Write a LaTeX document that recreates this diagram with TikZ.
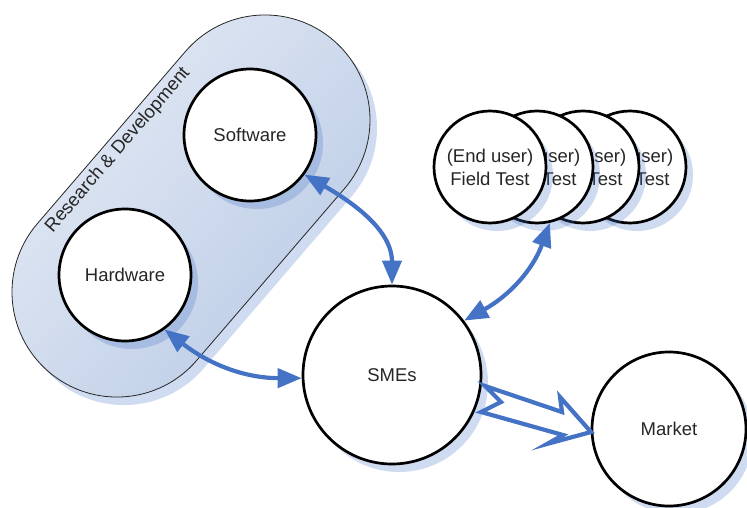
\documentclass[tikz,border=0pt]{standalone}
\usepackage{fontspec}
\setmainfont{Liberation Sans}
\usepackage{tikz}
\usetikzlibrary{arrows.meta,shapes.misc,shadows}
\definecolor{rd_blue}{RGB}{68, 114, 196}
\definecolor{rd_light}{RGB}{228, 234, 244}
\definecolor{rd_dark}{RGB}{186, 203, 230}
\definecolor{rd_text}{RGB}{38, 38, 38}
\tikzstyle{shd}=[drop shadow={shadow xshift=7pt,shadow yshift=-8pt,fill=rd_blue,opacity=0.26}]
\tikzstyle{bn}=[circle,fill=white,draw=black,line width=2.7pt,inner sep=0pt,
  text=rd_text,font=\fontsize{18.5}{23}\selectfont,align=center,shd]
\tikzstyle{ln}=[draw=rd_blue,line width=4.2pt,<->,>={Triangle[length=24pt,width=19pt]}]

\begin{document}
\begin{tikzpicture}[x=1pt,y=1pt]
		\useasboundingbox (0,0) rectangle (747,-508);
		\node[rounded rectangle,rotate=49.3,minimum width=437pt,minimum height=210pt,inner sep=0pt,
		  draw=rd_text,line width=0.8pt,top color=rd_light,bottom color=rd_dark,shading angle=49.3,shd] (rnd) at (191,-206) {};
		\node[rotate=49.3,text=rd_text,font=\fontsize{18.5}{23}\selectfont] (rdl) at (118,-150) {Research \& Development};
		\node[style=bn,minimum size=132pt] (sw) at (250,-135) {Software};
		\node[style=bn,minimum size=132pt] (hw) at (125,-275) {Hardware};
		\node[style=bn,minimum size=178pt] (sme) at (392,-375) {SMEs};
		\node[style=bn,minimum size=154pt] (mkt) at (669,-429) {Market};
		\foreach \n/\x in {4/630,3/583,2/537,1/490}
			\node[style=bn,minimum size=112pt] (ft\n) at (\x,-167) {(End user)\\Field Test};
		\draw[style=ln] (sw.-36) to[out=-30,in=90] (sme.north);
		\draw[style=ln] (hw.-54) to[out=-38,in=180] (sme.182);
		\draw[style=ln] (ft2.-77) to[out=-110,in=29] (sme.37);
		\draw[draw=rd_blue,fill=white,line width=4.2pt,line join=miter]
			(485,-386) -- (562,-412) -- (560,-397) -- (591,-432) -- (547,-444)
			-- (563,-435) -- (481,-412) -- (501,-402) -- cycle;
\end{tikzpicture}
\end{document}
